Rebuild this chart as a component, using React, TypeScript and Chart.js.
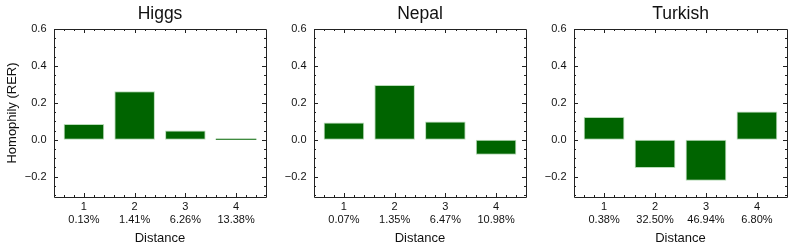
import React, { useEffect, useRef } from "react";
import { Chart, registerables } from "chart.js";

Chart.register(...registerables);

// ---- data ----
const distances = [1, 2, 3, 4];
const panelTitles = ["Higgs", "Nepal", "Turkish"];
const higgsRER = [0.086, 0.263, 0.05, 0.005];
const nepalRER = [0.094, 0.297, 0.099, -0.081];
const turkishRER = [0.123, -0.153, -0.222, 0.153];
const higgsShare = ["0.13%", "1.41%", "6.26%", "13.38%"];
const nepalShare = ["0.07%", "1.35%", "6.47%", "10.98%"];
const turkishShare = ["0.38%", "32.50%", "46.94%", "6.80%"];
const yTickValues = [-0.2, 0.0, 0.2, 0.4, 0.6];
const yMin = -0.31;
const yMax = 0.6;
const xMin = 0.41;
const xMax = 4.59;

const seriesValues = [higgsRER, nepalRER, turkishRER];
const seriesShares = [higgsShare, nepalShare, turkishShare];

// ---- layout ----
const W = 793;
const H = 251;
const plotLefts = [54, 314, 574];
const plotRights = [266, 526, 787];
const plotTop = 29;
const plotBottom = 197;
const FONT = "'Liberation Sans', Arial, Helvetica, sans-serif";
const TEXT = "#111";

const fmtY = (v: number) => {
  if (Math.abs(v) < 1e-9) return "0.0";
  return (v < 0 ? "\u2212" : "") + Math.abs(v).toFixed(1);
};

const framePlugin = {
  id: "frameTicks",
  afterDraw(chart: any) {
    const { ctx, chartArea } = chart;
    const { left, right, top, bottom } = chartArea;
    const x = chart.scales.x;
    const y = chart.scales.y;
    ctx.save();
    ctx.strokeStyle = "#222";
    ctx.lineWidth = 1;
    ctx.beginPath();
    ctx.rect(Math.round(left) + 0.5, Math.round(top) + 0.5, Math.round(right - left), Math.round(bottom - top));
    ctx.stroke();
    ctx.beginPath();
    for (let k = Math.ceil(yMin / 0.05); k * 0.05 <= yMax + 1e-9; k++) {
      const v = k * 0.05;
      const major = k % 4 === 0;
      const len = major ? 4 : 2;
      const py = Math.round(y.getPixelForValue(v)) + 0.5;
      ctx.moveTo(left, py);
      ctx.lineTo(left + len, py);
      ctx.moveTo(right, py);
      ctx.lineTo(right - len, py);
    }
    for (let k = Math.ceil(xMin / 0.2); k * 0.2 <= xMax + 1e-9; k++) {
      const v = k * 0.2;
      const major = k % 5 === 0;
      const len = major ? 4 : 2;
      const px = Math.round(x.getPixelForValue(v)) + 0.5;
      ctx.moveTo(px, bottom);
      ctx.lineTo(px, bottom - len);
      ctx.moveTo(px, top);
      ctx.lineTo(px, top + len);
    }
    ctx.stroke();
    // panel title
    const title = chart.options.plugins.frameTicks.title;
    ctx.fillStyle = TEXT;
    ctx.font = `17.5px ${FONT}`;
    ctx.textAlign = "center";
    ctx.textBaseline = "middle";
    ctx.fillText(title, (left + right) / 2, 14);
    ctx.restore();
  },
};

function makeConfig(i: number): any {
  const vals = seriesValues[i];
  const shares = seriesShares[i];
  const L = plotLefts[i];
  const R = plotRights[i];
  return {
    type: "bar",
    data: {
      datasets: [
        {
          data: distances.map((d, j) => ({ x: d, y: vals[j] })),
          backgroundColor: "#006400",
          borderColor: "#b9dcb9",
          borderWidth: (c: any) => (c.raw && Math.abs(c.raw.y) < 0.02 ? 0 : 1),
          borderSkipped: false,
          barPercentage: 0.8,
          categoryPercentage: 1.0,
        },
      ],
    },
    options: {
      responsive: false,
      animation: false,
      events: [],
      layout: { padding: { left: 0, right: W - R, top: plotTop, bottom: 0 } },
      plugins: {
        legend: { display: false },
        tooltip: { enabled: false },
        title: { display: false },
        frameTicks: { title: panelTitles[i] },
      },
      scales: {
        x: {
          type: "linear",
          min: xMin,
          max: xMax,
          offset: false,
          grid: { display: false, drawTicks: false, offset: false },
          border: { display: false },
          afterBuildTicks: (s: any) => {
            s.ticks = distances.map((d) => ({ value: d }));
          },
          afterFit: (s: any) => {
            s.height = H - plotBottom;
          },
          ticks: {
            autoSkip: false,
            maxRotation: 0,
            padding: 3.5,
            color: TEXT,
            font: { family: FONT, size: 11, lineHeight: 1.2 },
            callback: (v: number) => [String(v), shares[distances.indexOf(v)]],
          },
          title: {
            display: true,
            text: "Distance",
            color: TEXT,
            font: { family: FONT, size: 13, lineHeight: 1.2 },
            padding: { top: 0, bottom: 5.2 },
          },
        },
        y: {
          type: "linear",
          min: yMin,
          max: yMax,
          grid: { display: false, drawTicks: false },
          border: { display: false },
          afterBuildTicks: (s: any) => {
            s.ticks = yTickValues.map((v) => ({ value: v }));
          },
          afterFit: (s: any) => {
            s.width = L;
          },
          ticks: {
            padding: 7.5,
            color: TEXT,
            font: { family: FONT, size: 11 },
            callback: (v: number) => fmtY(v),
          },
          title: {
            display: i === 0,
            text: "Homophily (RER)",
            color: TEXT,
            font: { family: FONT, size: 13, lineHeight: 1.2 },
            padding: { top: 4.5, bottom: 0 },
          },
        },
      },
    },
    plugins: [framePlugin],
  };
}

export default function App() {
  const refs = [useRef<HTMLCanvasElement>(null), useRef<HTMLCanvasElement>(null), useRef<HTMLCanvasElement>(null)];
  useEffect(() => {
    const charts = refs.map((r, i) => new Chart(r.current as HTMLCanvasElement, makeConfig(i)));
    return () => charts.forEach((c) => c.destroy());
  }, []);
  return (
    <div style={{ position: "absolute", left: 0, top: 0, width: W, height: H, background: "#fff" }}>
      {refs.map((r, i) => (
        <canvas
          key={i}
          ref={r}
          width={W}
          height={H}
          style={{ position: "absolute", left: 0, top: 0, width: W, height: H }}
        />
      ))}
    </div>
  );
}
